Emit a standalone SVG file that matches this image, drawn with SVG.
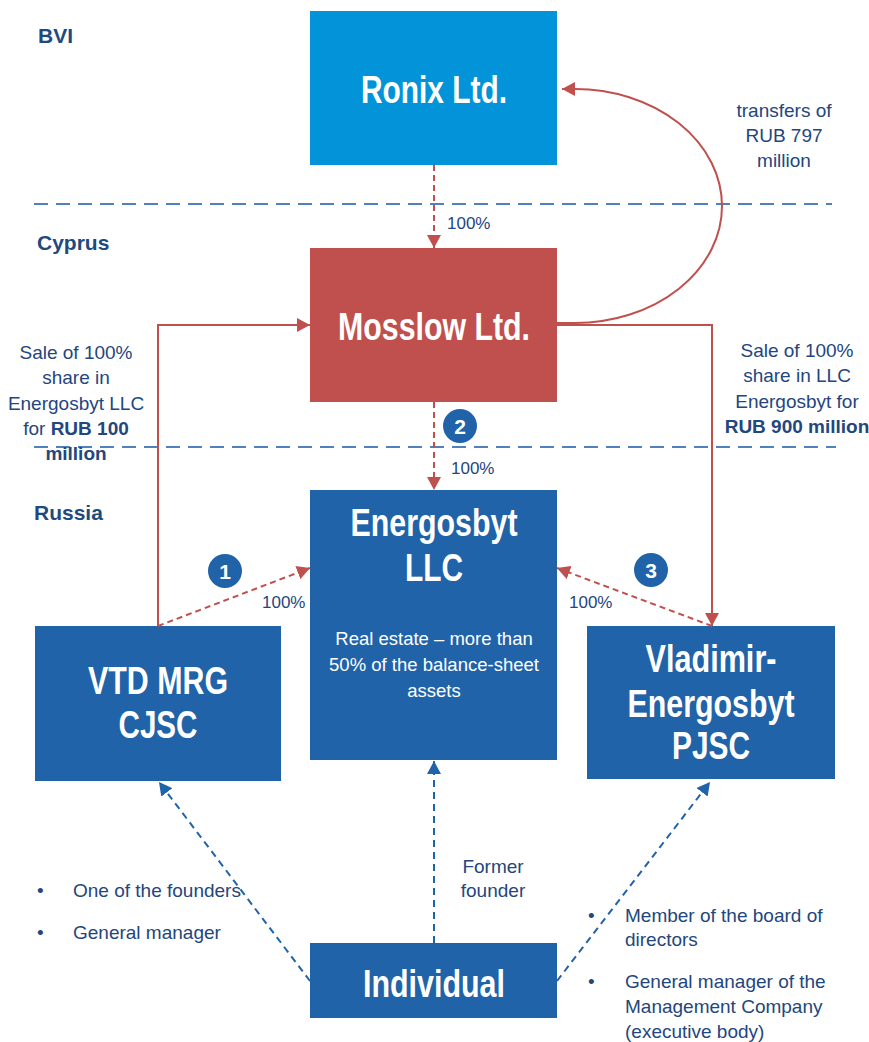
<svg xmlns="http://www.w3.org/2000/svg" width="869" height="1042" viewBox="0 0 869 1042">
<style>
.title{font-family:"Liberation Sans",Arial,sans-serif;font-weight:bold;font-size:38px;fill:#fff;text-anchor:middle}
.body{font-family:"Liberation Sans",Arial,sans-serif;font-size:18.5px;fill:#fff;text-anchor:middle}
.lbl{font-family:"Liberation Sans",Arial,sans-serif;font-size:19px;fill:#23467E}
.mid{text-anchor:middle}
.pct{font-family:"Liberation Sans",Arial,sans-serif;font-size:17px;fill:#23467E}
.region{font-family:"Liberation Sans",Arial,sans-serif;font-weight:bold;font-size:21px;fill:#1F4A7E}
.badge circle{fill:#2163A8}
.badge text{font-family:"Liberation Sans",Arial,sans-serif;font-weight:bold;font-size:21px;fill:#fff;text-anchor:middle}
.border{stroke:#4F81BD;stroke-width:2;stroke-dasharray:14 8;fill:none}
.red{stroke:#C0504D;stroke-width:2;fill:none}
.reddash{stroke:#C0504D;stroke-width:2;fill:none;stroke-dasharray:6 4}
.bluedash{stroke:#2163A8;stroke-width:2;fill:none;stroke-dasharray:7 5}
</style>
<defs>
<marker id="ar" markerUnits="userSpaceOnUse" markerWidth="14" markerHeight="14" refX="13" refY="7" orient="auto"><path d="M0,0 L13,7 L0,14 z" fill="#C0504D"/></marker>
<marker id="ab" markerUnits="userSpaceOnUse" markerWidth="14" markerHeight="14" refX="13" refY="7" orient="auto"><path d="M0,0 L13,7 L0,14 z" fill="#2163A8"/></marker>
</defs>
<rect width="869" height="1042" fill="#fff"/>

<g id="regions">
<line class="border" x1="34" y1="204" x2="832" y2="204"/>
<line class="border" x1="34" y1="447" x2="836" y2="447"/>
<text class="region" x="38" y="43">BVI</text>
<text class="region" x="37" y="250">Cyprus</text>
<text class="region" x="34" y="520">Russia</text>
</g>

<g id="ronix"><rect x="310" y="11" width="247" height="154" fill="#0293D8"/><text class="title" x="434" y="103" textLength="146" lengthAdjust="spacingAndGlyphs">Ronix Ltd.</text></g>
<g id="mosslow"><rect x="310" y="248" width="247" height="154" fill="#C0504D"/><text class="title" x="434" y="340" textLength="192" lengthAdjust="spacingAndGlyphs">Mosslow Ltd.</text></g>
<g id="energosbyt"><rect x="310" y="490" width="247" height="270" fill="#2163A8"/>
<text class="title" x="434" y="536" textLength="167" lengthAdjust="spacingAndGlyphs">Energosbyt</text>
<text class="title" x="434" y="581" textLength="58" lengthAdjust="spacingAndGlyphs">LLC</text>
<text class="body" x="434" y="645">Real estate – more than</text>
<text class="body" x="434" y="671">50% of the balance-sheet</text>
<text class="body" x="434" y="697">assets</text>
</g>
<g id="vtd"><rect x="35" y="626" width="246" height="155" fill="#2163A8"/>
<text class="title" x="158" y="694" textLength="140" lengthAdjust="spacingAndGlyphs">VTD MRG</text>
<text class="title" x="158" y="738" textLength="79" lengthAdjust="spacingAndGlyphs">CJSC</text>
</g>
<g id="vladimir"><rect x="587" y="626" width="248" height="153" fill="#2163A8"/>
<text class="title" x="711" y="672" textLength="131" lengthAdjust="spacingAndGlyphs">Vladimir-</text>
<text class="title" x="711" y="717" textLength="167" lengthAdjust="spacingAndGlyphs">Energosbyt</text>
<text class="title" x="711" y="759" textLength="78" lengthAdjust="spacingAndGlyphs">PJSC</text>
</g>
<g id="individual"><rect x="310" y="943" width="247" height="75" fill="#2163A8"/>
<text class="title" x="434" y="997" textLength="142" lengthAdjust="spacingAndGlyphs">Individual</text></g>

<g id="connectors">
<path class="reddash" d="M434,165 V248" marker-end="url(#ar)"/>
<path class="reddash" d="M434,402 V490" marker-end="url(#ar)"/>
<path class="red" d="M557,323 H575 A147 117 0 0 0 575,89 H562" marker-end="url(#ar)"/>
<path class="red" d="M557,325 H712 V626" marker-end="url(#ar)"/>
<path class="red" d="M158,626 V325 H310" marker-end="url(#ar)"/>
<path class="reddash" d="M158,626 L310,568" marker-end="url(#ar)"/>
<path class="reddash" d="M712,626 L557,568" marker-end="url(#ar)"/>
<path class="bluedash" d="M434,943 V761" marker-end="url(#ab)"/>
<path class="bluedash" d="M310,981 L159,782" marker-end="url(#ab)"/>
<path class="bluedash" d="M557,981 L710,782" marker-end="url(#ab)"/>
</g>

<g id="badges">
<g class="badge"><circle cx="225" cy="571" r="17"/><text x="225" y="579">1</text></g>
<g class="badge"><circle cx="460" cy="426" r="17"/><text x="460" y="434">2</text></g>
<g class="badge"><circle cx="651" cy="570" r="17"/><text x="651" y="578">3</text></g>
</g>

<g id="labels">
<text class="pct" x="447" y="229">100%</text>
<text class="pct" x="451" y="474">100%</text>
<text class="pct" x="262" y="608">100%</text>
<text class="pct" x="569" y="608">100%</text>
<text class="lbl mid" x="784" y="117">transfers of</text>
<text class="lbl mid" x="784" y="142">RUB 797</text>
<text class="lbl mid" x="784" y="167">million</text>
<text class="lbl mid" x="76" y="359">Sale of 100%</text>
<text class="lbl mid" x="76" y="384">share in</text>
<text class="lbl mid" x="76" y="410">Energosbyt LLC</text>
<text class="lbl mid" x="76" y="435">for <tspan font-weight="bold">RUB 100</tspan></text>
<text class="lbl mid" x="76" y="460" font-weight="bold">million</text>
<text class="lbl mid" x="797" y="357">Sale of 100%</text>
<text class="lbl mid" x="797" y="382">share in LLC</text>
<text class="lbl mid" x="797" y="408">Energosbyt for</text>
<text class="lbl mid" x="797" y="433" font-weight="bold">RUB 900 million</text>
<text class="lbl mid" x="493" y="873">Former</text>
<text class="lbl mid" x="493" y="897">founder</text>
<text class="lbl" x="37" y="897">•</text>
<text class="lbl" x="73" y="897">One of the founders</text>
<text class="lbl" x="37" y="939">•</text>
<text class="lbl" x="73" y="939">General manager</text>
<text class="lbl" x="588" y="922">•</text>
<text class="lbl" x="625" y="922">Member of the board of</text>
<text class="lbl" x="625" y="946">directors</text>
<text class="lbl" x="588" y="988">•</text>
<text class="lbl" x="625" y="988">General manager of the</text>
<text class="lbl" x="625" y="1013">Management Company</text>
<text class="lbl" x="625" y="1038">(executive body)</text>
</g>
</svg>
